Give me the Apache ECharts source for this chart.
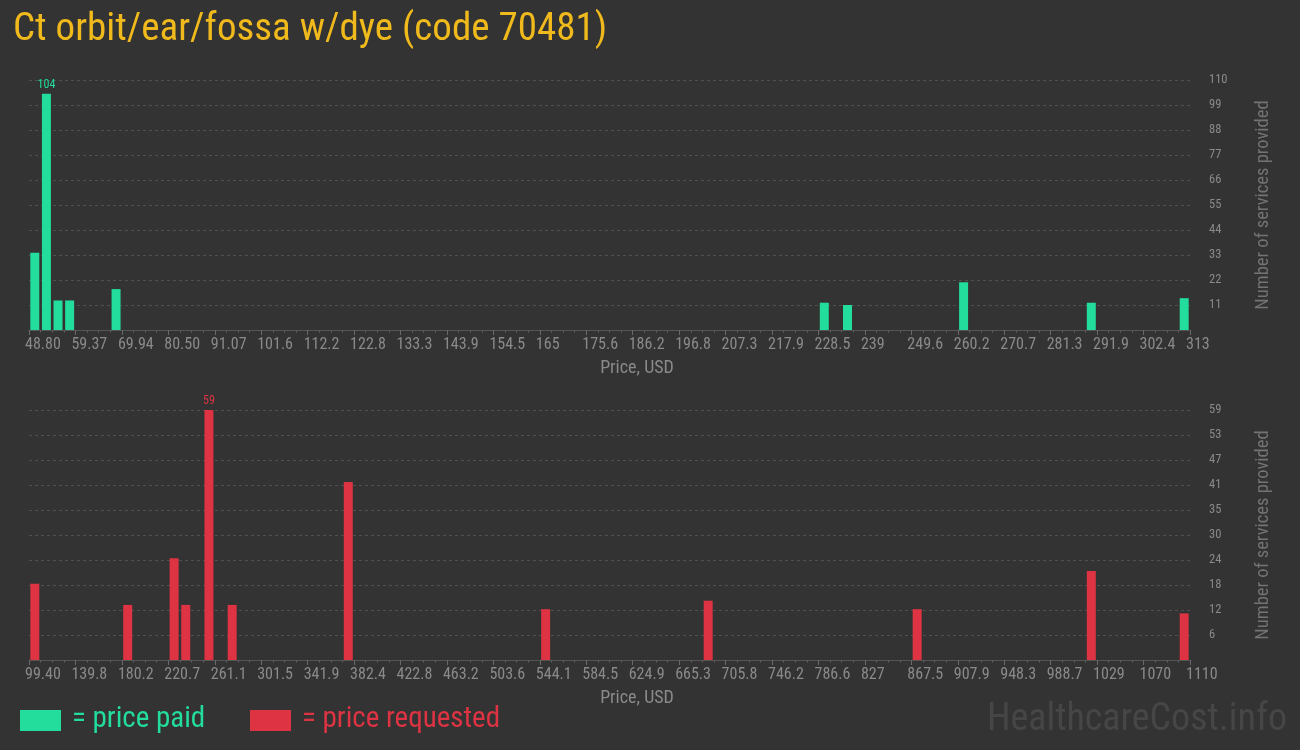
<!DOCTYPE html>
<html>
<head>
<meta charset="utf-8">
<script src="https://cdn.jsdelivr.net/npm/echarts@6/dist/echarts.min.js"></script>
<style>
html,body{margin:0;padding:0;background:#333333;}
#chart{width:1300px;height:750px;}
</style>
</head>
<body>
<div id="chart"></div>
<script>
// ---- data ----
var titleText = 'Ct orbit/ear/fossa w/dye (code 70481)';
var paidTickLabels = ['48.80','59.37','69.94','80.50','91.07','101.6','112.2','122.8','133.3','143.9','154.5','165','175.6','186.2','196.8','207.3','217.9','228.5','239','249.6','260.2','270.7','281.3','291.9','302.4','313'];
var requestedTickLabels = ['99.40','139.8','180.2','220.7','261.1','301.5','341.9','382.4','422.8','463.2','503.6','544.1','584.5','624.9','665.3','705.8','746.2','786.6','827','867.5','907.9','948.3','988.7','1029','1070','1110'];
var binCount = 100;           // price bins per histogram
var binsPerLabel = 4;         // one tick label every 4 bins
var paidBins = [0, 1, 2, 3, 7, 68, 70, 80, 91, 99];
var paidCounts = [34, 104, 13, 13, 18, 12, 11, 21, 12, 14];
var requestedBins = [0, 8, 12, 13, 15, 17, 27, 44, 58, 76, 91, 99];
var requestedCounts = [18, 13, 24, 13, 59, 13, 42, 12, 14, 12, 21, 11];
var paidYMax = 110, paidYInterval = 11;
var requestedYMax = 59, requestedYInterval = 5.9;

// ---- styles ----
var GREEN = '#22dd9b', RED = '#dd3343', GOLD = '#f0b91c';
var LABEL = '#8a8a8a', NAME = '#737373', GRIDC = '#505050';
var NARROW = "'Roboto Condensed','Liberation Sans Narrow','DejaVu Sans Condensed',sans-serif";

function toData(bins, counts) {
  var mx = Math.max.apply(null, counts);
  return bins.map(function (b, i) {
    var item = { value: [b + 0.5, counts[i]] };
    if (counts[i] === mx) item.label = { show: true };
    return item;
  });
}

function xAxisCfg(idx, labels) {
  return {
    type: 'value', gridIndex: idx, min: 0, max: binCount, interval: binsPerLabel,
    name: 'Price, USD', nameLocation: 'middle', nameGap: 29,
    nameTextStyle: { color: LABEL, fontSize: 18, fontFamily: NARROW, padding: [0, 0, 0, 55] },
    axisLine: { show: true, lineStyle: { color: '#555555', width: 1 } },
    axisTick: { show: true, length: 5, lineStyle: { color: '#6a6a6a' } },
    minorTick: { show: true, splitNumber: binsPerLabel, length: 2.5, lineStyle: { color: '#5e5e5e' } },
    splitLine: { show: false }, minorSplitLine: { show: false },
    axisLabel: {
      color: LABEL, fontSize: 16, fontFamily: NARROW, align: 'left', margin: 7,
      padding: [0, 0, 0, -4],
      formatter: function (v) { return labels[Math.round(v / binsPerLabel)] || ''; }
    }
  };
}

function yAxisCfg(idx, max, interval) {
  return {
    type: 'value', gridIndex: idx, position: 'right', min: 0, max: max, interval: interval,
    name: 'Number of services provided', nameLocation: 'middle', nameRotate: 90, nameGap: 64,
    nameTextStyle: { color: NAME, fontSize: 18.5, fontFamily: NARROW },
    axisLine: { show: false },
    axisTick: { show: true, length: 16, lineStyle: { color: GRIDC, type: [3, 3] } },
    splitLine: { show: true, lineStyle: { color: GRIDC, type: [3, 3] } },
    axisLabel: {
      color: LABEL, fontSize: 12.5, fontFamily: NARROW, margin: 19, showMinLabel: false,
      formatter: function (v) { return String(Math.round(v)); }
    }
  };
}

var chart = echarts.init(document.getElementById('chart'), null, { renderer: 'canvas' });
chart.setOption({
  backgroundColor: '#333333',
  animation: false,
  grid: [
    { left: 29, width: 1161, top: 80, height: 250 },
    { left: 29, width: 1161, top: 410, height: 250 }
  ],
  xAxis: [xAxisCfg(0, paidTickLabels), xAxisCfg(1, requestedTickLabels)],
  yAxis: [yAxisCfg(0, paidYMax, paidYInterval), yAxisCfg(1, requestedYMax, requestedYInterval)],
  series: [
    {
      name: 'price paid', type: 'bar', xAxisIndex: 0, yAxisIndex: 0, barWidth: 9,
      itemStyle: { color: GREEN },
      label: { show: false, position: 'top', distance: 3, color: GREEN, fontSize: 12, fontFamily: NARROW },
      data: toData(paidBins, paidCounts)
    },
    {
      name: 'price requested', type: 'bar', xAxisIndex: 1, yAxisIndex: 1, barWidth: 9,
      itemStyle: { color: RED },
      label: { show: false, position: 'top', distance: 3, color: RED, fontSize: 12, fontFamily: NARROW },
      data: toData(requestedBins, requestedCounts)
    }
  ],
  graphic: [
    { type: 'text', x: 13, y: 30, style: { text: titleText, font: "39px 'Roboto Condensed'", fill: GOLD, verticalAlign: 'middle' } },
    { type: 'rect', shape: { x: 20, y: 710, width: 41, height: 21 }, style: { fill: GREEN } },
    { type: 'text', x: 72, y: 720, style: { text: '= price paid', font: "29px 'Roboto Condensed'", fill: GREEN, verticalAlign: 'middle' } },
    { type: 'rect', shape: { x: 250, y: 710, width: 41, height: 21 }, style: { fill: RED } },
    { type: 'text', x: 302, y: 720, style: { text: '= price requested', font: "29px 'Roboto Condensed'", fill: RED, verticalAlign: 'middle' } },
    { type: 'text', x: 1287, y: 720, style: { text: 'HealthcareCost.info', font: "38px 'Roboto Condensed'", fill: '#464646', align: 'right', verticalAlign: 'middle' } }
  ]
});
</script>
</body>
</html>
